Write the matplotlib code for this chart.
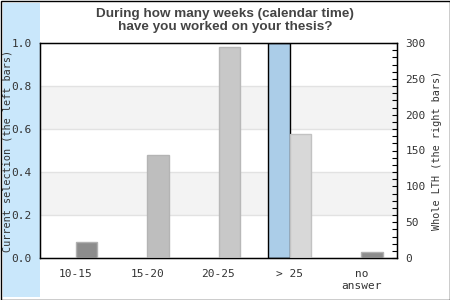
import matplotlib
matplotlib.use('Agg')
import matplotlib.pyplot as plt
import numpy as np
from matplotlib.patches import Rectangle
from matplotlib.ticker import MultipleLocator

# Data
CATEGORIES = ['10-15', '15-20', '20-25', '> 25', 'no\nanswer']
CURRENT = [0, 0, 0, 1.0, 0]           # left bars, left axis (share)
WHOLE_LTH = [23, 144, 295, 173, 9]    # right bars, right axis (count)
LTH_COLORS = ['#8c8c8c', '#bebebe', '#c8c8c8', '#d8d8d8', '#8c8c8c']
LTH_EDGES = ['#b0b0b0', '#b4b4b4', '#b8b8b8', '#c2c2c2', '#b0b0b0']

TITLE = 'During how many weeks (calendar time)\nhave you worked on your thesis?'
MONO = 'DejaVu Sans Mono'


def main():
    fig = plt.figure(figsize=(4.5, 3), dpi=100)
    fig.patch.set_facecolor('white')

    # light blue strip on the left and the black frame round the picture
    fig.patches.append(Rectangle((3 / 450, 3 / 300), 37 / 450, 294 / 300,
                                 transform=fig.transFigure, facecolor='#c9e7fb',
                                 edgecolor='none', zorder=-5))
    fig.patches.append(Rectangle((0.5 / 450, 0.5 / 300), 449 / 450, 299 / 300,
                                 transform=fig.transFigure, facecolor='none',
                                 edgecolor='black', lw=1, zorder=5))

    ax = fig.add_axes([40 / 450, 42 / 300, 357 / 450, 215 / 300])
    x = np.arange(len(CATEGORIES))
    w = 0.3

    # alternating bands
    for lo in (0.2, 0.6):
        ax.axhspan(lo, lo + 0.2, color='#f3f3f3', lw=0, zorder=0)
    for y in (0.2, 0.4, 0.6, 0.8):
        ax.axhline(y, color='#e2e2e2', lw=1, zorder=0.5)

    lws = [1 if v > 0 else 0 for v in CURRENT]
    ax.bar(x - w / 2, CURRENT, width=w, color='#abcde8', edgecolor='black', lw=lws, zorder=2)
    ax.set_xlim(-0.5, len(CATEGORIES) - 0.5)
    ax.set_ylim(0, 1)
    ax.set_yticks(np.arange(0, 1.01, 0.2))
    ax.set_yticklabels(['%.1f' % v for v in np.arange(0, 1.01, 0.2)])
    ax.set_xticks(x)
    ax.set_xticklabels(CATEGORIES, linespacing=1.2)
    ax.tick_params(axis='both', length=0, labelsize=8, labelcolor='#333333')
    ax.tick_params(axis='x', pad=8)
    ax.tick_params(axis='y', pad=6)
    for lab in ax.get_xticklabels() + ax.get_yticklabels():
        lab.set_family(MONO)
    for s in ax.spines.values():
        s.set_color('black')
        s.set_linewidth(1)
    ax.set_ylabel('Current selection (the left bars)', family=MONO, fontsize=7.3,
                  color='#333333')
    ax.yaxis.set_label_coords(-27 / 357, 0.5)

    ax2 = ax.twinx()
    ax2.bar(x + w / 2, WHOLE_LTH, width=w, color=LTH_COLORS, edgecolor=LTH_EDGES,
            lw=1, zorder=2)
    ax2.set_ylim(0, 300)
    ax2.yaxis.set_major_locator(MultipleLocator(50))
    ax2.yaxis.set_minor_locator(MultipleLocator(10))
    ax2.tick_params(axis='y', which='both', direction='in', length=3.5, width=0.8,
                    labelsize=8, labelcolor='#333333', pad=6)
    for lab in ax2.get_yticklabels():
        lab.set_family(MONO)
    ax2.set_ylabel('Whole LTH (the right bars)', family=MONO, fontsize=7.3,
                   color='#333333')
    ax2.yaxis.set_label_coords(1 + 35 / 357, 0.5)

    fig.text(0.5, 0.932, TITLE, ha='center', va='center', fontsize=9.7,
             fontweight='bold', family='Liberation Sans', color='#444444',
             linespacing=1.2)

    fig.savefig('out.png', dpi=100)


if __name__ == '__main__':
    main()
